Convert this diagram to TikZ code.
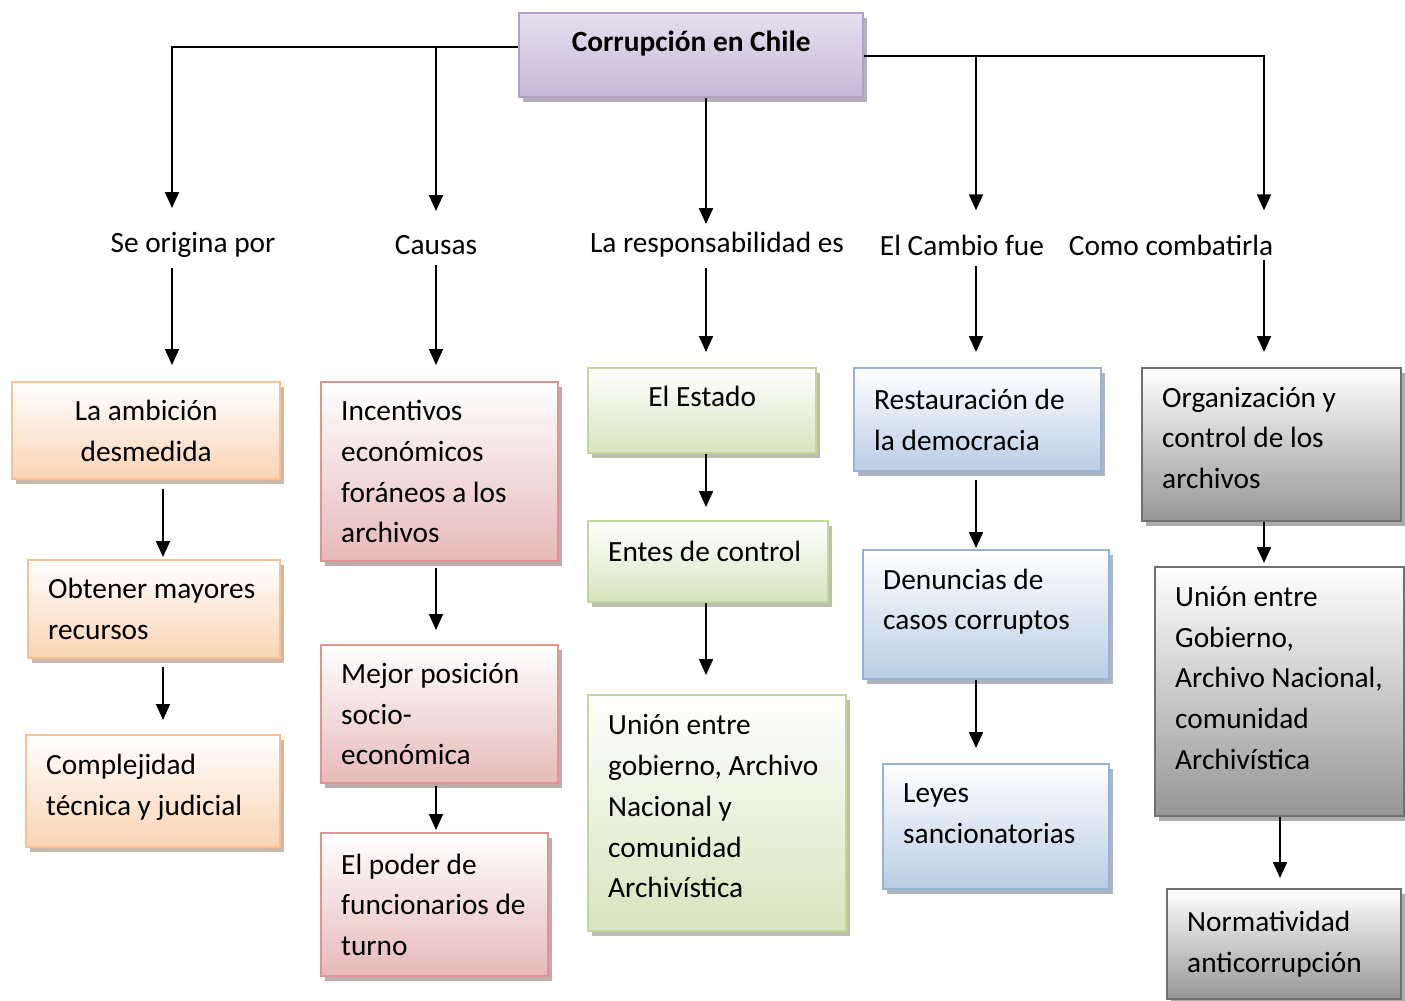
\documentclass[tikz,border=0pt]{standalone}
\usepackage{fontspec}
\setmainfont{Carlito}
\usetikzlibrary{arrows.meta}
\usetikzlibrary{shadows}

\definecolor{orB}{HTML}{FAC090}
\definecolor{orF}{HTML}{FBD4B4}
\definecolor{rdB}{HTML}{D99694}
\definecolor{rdF}{HTML}{E6B9B8}
\definecolor{gnB}{HTML}{C3D69B}
\definecolor{gnF}{HTML}{D7E4BD}
\definecolor{blB}{HTML}{95B3D7}
\definecolor{blF}{HTML}{B9CDE5}
\definecolor{gyB}{HTML}{707070}
\definecolor{gyF}{HTML}{969696}
\definecolor{puB}{HTML}{B2A1C7}
\definecolor{puF}{HTML}{C6B8D9}

% pushes the text of a box upwards (extra depth on the last line)
\newcommand{\lifttext}[1]{\rule[-#1]{0pt}{#1}}

\begin{document}
\begin{tikzpicture}[x=0.02cm,y=-0.02cm,
    font=\fontsize{16.7pt}{23.2pt}\selectfont,
    shd/.style={drop shadow={shadow xshift=.08cm,shadow yshift=-.09cm,fill=#1,opacity=.5}},
    box/.style={draw,line width=1.4pt,anchor=north west,inner xsep=.4cm,inner ysep=0pt,align=flush left},
    orbox/.style={box,draw=orB,top color=white,bottom color=orF,shd=orB!60!black},
    rdbox/.style={box,draw=rdB,top color=white,bottom color=rdF,shd=rdB!60!black},
    gnbox/.style={box,draw=gnB,top color=white,bottom color=gnF,shd=gnB!60!black},
    blbox/.style={box,draw=blB,top color=white,bottom color=blF,shd=blB!60!black},
    gybox/.style={box,draw=gyB,top color=white,bottom color=gyF,shd=gyB!80!black},
    tbox/.style={box,draw=puB,top color=puF!45,bottom color=puF,shd=puB!60!black,align=flush center},
    lbl/.style={inner sep=0pt},
    arr/.style={line width=1.1pt,-{Triangle[length=.32cm,width=.28cm]}}]
  \useasboundingbox (0,0) rectangle (1405,1000);

  % title and questions
  \node[tbox,text width=6.08cm,minimum height=1.68cm] (t) at (518,12) {\bfseries Corrupción en Chile\lifttext{.58cm}};
  \node[lbl] (l1) at (193,245) {Se origina por};
  \node[lbl] (l2) at (436,245) {Causas};
  \node[lbl] (l3) at (717,245) {La responsabilidad es};
  \node[lbl] (l4) at (962,245) {El Cambio fue};
  \node[lbl] (l5) at (1171,245) {Como combatirla};

  % first column
  \node[orbox,text width=4.56cm,minimum height=1.94cm,align=flush center] (b11) at (11,381) {La ambición\\desmedida};
  \node[orbox,text width=4.24cm,minimum height=1.96cm] (b12) at (27,559) {Obtener mayores\\recursos};
  \node[orbox,text width=4.28cm,minimum height=2.24cm] (b13) at (25,734) {Complejidad\\técnica y judicial\lifttext{.26cm}};

  % second column
  \node[rdbox,text width=3.94cm,minimum height=3.58cm] (b21) at (320,381) {Incentivos\\económicos\\foráneos a los\\archivos};
  \node[rdbox,text width=3.94cm,minimum height=2.76cm] (b22) at (320,644) {Mejor posición\\socio-\\económica};
  \node[rdbox,text width=3.74cm,minimum height=2.86cm] (b23) at (320,832) {El poder de\\funcionarios de\\turno};

  % third column
  \node[gnbox,text width=3.76cm,minimum height=1.7cm,align=flush center] (b31) at (587,367) {El Estado\lifttext{.56cm}};
  \node[gnbox,text width=4cm,minimum height=1.62cm] (b32) at (587,520) {Entes de control\lifttext{.4cm}};
  \node[gnbox,text width=4.36cm,minimum height=4.72cm] (b33) at (587,694) {Unión entre\\gobierno, Archivo\\Nacional y\\comunidad\\Archivística\lifttext{.28cm}};

  % fourth column
  \node[blbox,text width=4.14cm,minimum height=2.06cm] (b41) at (853,367) {Restauración de\\la democracia};
  \node[blbox,text width=4.12cm,minimum height=2.58cm] (b42) at (862,549) {Denuncias de\\casos corruptos\lifttext{.62cm}};
  \node[blbox,text width=3.72cm,minimum height=2.5cm] (b43) at (882,763) {Leyes\\sancionatorias\lifttext{.52cm}};

  % fifth column
  \node[gybox,text width=4.38cm,minimum height=3.06cm] (b51) at (1141,367) {Organización y\\control de los\\archivos\lifttext{.28cm}};
  \node[gybox,text width=4.18cm,minimum height=4.98cm] (b52) at (1154,566) {Unión entre\\Gobierno,\\\mbox{Archivo Nacional,}\\comunidad\\Archivística\lifttext{.56cm}};
  \node[gybox,text width=3.88cm,minimum height=2.2cm] (b53) at (1166,888) {Normatividad\\anticorrupción};

  % connectors from the title
  \coordinate (jl) at (436,47);
  \coordinate (jr) at (976,56);
  \draw[arr,shorten >=.48cm] (t.west |- jl) -| (l1.north -| 172,0);
  \draw[arr,shorten >=.48cm] (jl) -- (l2.north -| jl);
  \draw[arr,shorten >=.16cm] (t.south -| 706,0) -- (l3.north -| 706,0);
  \draw[arr,shorten >=.48cm] (t.east |- jr) -| (l5.north -| 1264,0);
  \draw[arr,shorten >=.48cm] (jr) -- (l4.north -| jr);

  % questions to first boxes
  \draw[arr,shorten <=.2cm,shorten >=.32cm] (l1.south -| 172,0) -- (b11.north -| 172,0);
  \draw[arr,shorten <=.2cm,shorten >=.32cm] (l2.south -| 436,0) -- (b21.north -| 436,0);
  \draw[arr,shorten <=.2cm,shorten >=.3cm] (l3.south -| 706,0) -- (b31.north -| 706,0);
  \draw[arr,shorten <=.2cm,shorten >=.3cm] (l4.south -| 976,0) -- (b41.north -| 976,0);
  \draw[arr,shorten <=.08cm,shorten >=.3cm] (l5.south -| 1264,0) -- (b51.north -| 1264,0);

  % boxes to boxes
  \draw[arr,shorten <=.18cm,shorten >=.04cm] (b11.south -| 163,0) -- (b12.north -| 163,0);
  \draw[arr,shorten <=.16cm,shorten >=.28cm] (b12.south -| 163,0) -- (b13.north -| 163,0);
  \draw[arr,shorten <=.12cm,shorten >=.28cm] (b21.south -| 436,0) -- (b22.north -| 436,0);
  \draw[arr,shorten <=.04cm,shorten >=.04cm] (b22.south -| 436,0) -- (b23.north -| 436,0);
  \draw[arr,shorten >=.26cm] (b31.south -| 706,0) -- (b32.north -| 706,0);
  \draw[arr,shorten >=.38cm] (b32.south -| 706,0) -- (b33.north -| 706,0);
  \draw[arr,shorten <=.16cm,shorten >=.02cm] (b41.south -| 976,0) -- (b42.north -| 976,0);
  \draw[arr,shorten >=.3cm] (b42.south -| 976,0) -- (b43.north -| 976,0);
  \draw[arr,shorten >=.06cm] (b51.south -| 1264,0) -- (b52.north -| 1264,0);
  \draw[arr,shorten >=.2cm] (b52.south -| 1280,0) -- (b53.north -| 1280,0);
\end{tikzpicture}
\end{document}
